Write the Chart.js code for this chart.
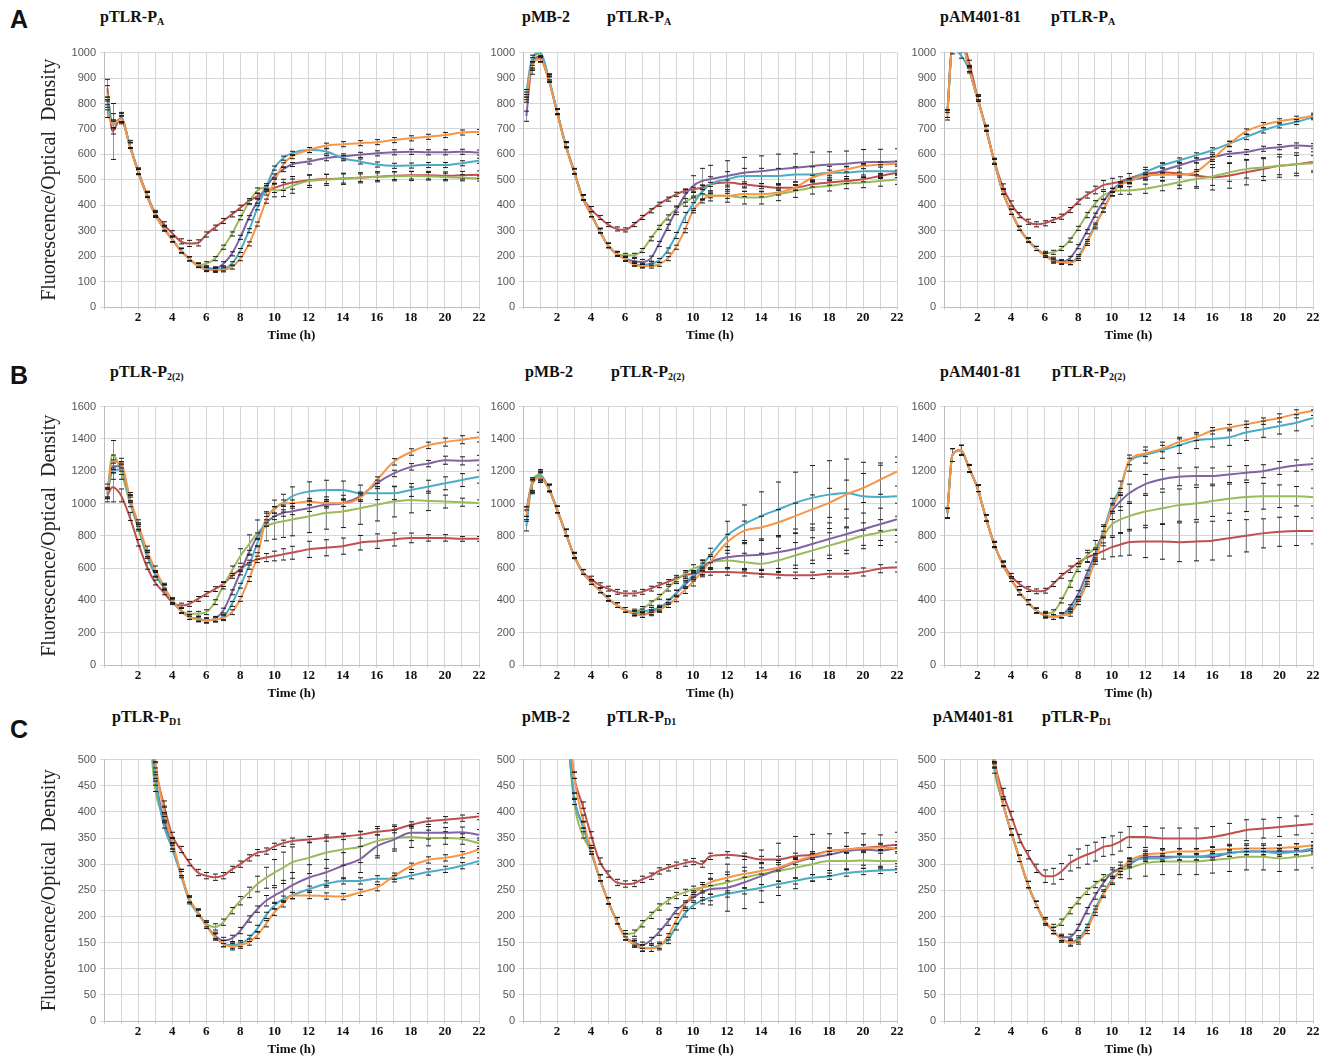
<!DOCTYPE html>
<html>
<head>
<meta charset="utf-8">
<script src="https://cdn.jsdelivr.net/npm/chart.js@4.4.1/dist/chart.umd.min.js"></script>
<style>
  body { margin: 0; background: #fff; width: 1331px; height: 1062px; position: relative; overflow: hidden; }
  canvas { position: absolute; }
  .letter { position: absolute; font: bold 25px "Liberation Sans", Arial, sans-serif; color: #111; }
  .ttl { position: absolute; font: bold 16px "Liberation Serif", "Times New Roman", serif; color: #111; white-space: nowrap; }
  .ttl sub { font-size: 10px; vertical-align: -3px; }
</style>
</head>
<body>
<div class="letter" style="left:10px;top:5px">A</div>
<div class="letter" style="left:10px;top:361px">B</div>
<div class="letter" style="left:10px;top:715px">C</div>

<div class="ttl" style="left:100px;top:8px">pTLR-P<sub>A</sub></div>
<div class="ttl" style="left:522px;top:8px">pMB-2</div>
<div class="ttl" style="left:607px;top:8px">pTLR-P<sub>A</sub></div>
<div class="ttl" style="left:940px;top:8px">pAM401-81</div>
<div class="ttl" style="left:1051px;top:8px">pTLR-P<sub>A</sub></div>

<div class="ttl" style="left:110px;top:363px">pTLR-P<sub>2(2)</sub></div>
<div class="ttl" style="left:525px;top:363px">pMB-2</div>
<div class="ttl" style="left:611px;top:363px">pTLR-P<sub>2(2)</sub></div>
<div class="ttl" style="left:940px;top:363px">pAM401-81</div>
<div class="ttl" style="left:1052px;top:363px">pTLR-P<sub>2(2)</sub></div>

<div class="ttl" style="left:112px;top:708px">pTLR-P<sub>D1</sub></div>
<div class="ttl" style="left:522px;top:708px">pMB-2</div>
<div class="ttl" style="left:607px;top:708px">pTLR-P<sub>D1</sub></div>
<div class="ttl" style="left:933px;top:708px">pAM401-81</div>
<div class="ttl" style="left:1042px;top:708px">pTLR-P<sub>D1</sub></div>

<script>
// sampling times (h), shared by every series
const X_HOURS = [0.2,0.5,1,1.5,2,2.5,3,3.5,4,4.5,5,5.5,6,6.5,7,7.5,8,8.5,9,9.5,10,10.5,11,12,13,14,15,16,17,18,19,20,21,22];

// ---- row A : pTLR-PA (0-1000) ----
const a1Red    = [860,690,745,640,535,445,370,325,290,258,250,252,285,312,338,364,390,416,436,452,468,480,488,498,503,505,508,512,516,518,518,516,518,520];
const a1Green  = [840,720,740,635,530,440,362,308,265,222,190,165,170,190,235,287,351,412,458,470,458,462,475,495,500,504,508,512,514,515,514,511,508,505];
const a1Purple = [810,720,740,637,533,442,365,311,267,222,190,165,152,150,170,209,274,351,416,470,515,540,560,572,585,592,598,604,608,610,608,608,610,607];
const a1Cyan   = [800,715,740,637,533,442,365,311,267,222,190,163,148,147,150,170,222,300,390,468,546,585,604,617,612,585,572,560,555,556,558,558,565,575];
const a1Orange = [760,720,738,635,532,441,364,310,266,221,189,163,147,144,146,157,190,248,326,416,494,559,591,617,634,640,644,648,656,663,669,676,686,688];

const a2Red    = [830,950,975,895,768,638,534,432,385,352,324,307,303,324,352,378,404,424,443,456,463,469,482,489,482,475,469,469,482,489,495,502,515,528];
const a2Green  = [840,960,995,900,768,638,534,430,365,300,242,209,203,203,222,268,313,352,385,411,430,443,437,437,430,430,443,456,469,476,485,489,495,502];
const a2Purple = [750,940,985,898,768,638,534,430,365,300,242,209,190,181,177,190,248,313,378,437,476,495,502,515,528,534,541,547,554,560,563,569,570,572];
const a2Cyan   = [840,970,1000,905,770,640,535,430,365,300,242,209,190,170,164,170,183,222,281,352,404,450,482,502,515,515,515,521,521,528,528,534,534,534];
const a2Orange = [820,945,975,895,766,636,532,430,365,300,242,209,188,168,161,161,168,190,235,300,378,417,437,437,444,443,450,469,508,528,541,554,560,563];

const a3Red    = [760,1040,1060,960,825,705,575,474,407,361,335,325,329,342,355,381,414,440,460,479,486,492,505,524,530,524,517,510,517,530,542,555,561,570];
const a3Green  = [760,1030,1050,935,819,702,571,453,374,309,263,230,211,215,230,263,309,361,406,439,452,458,458,465,477,490,503,513,529,542,548,555,561,565];
const a3Purple = [760,1030,1050,935,819,702,571,453,374,309,263,230,204,188,178,191,237,296,361,414,458,484,497,510,536,556,576,589,602,609,622,628,635,632];
const a3Cyan   = [760,1010,990,930,819,702,571,453,374,309,263,230,204,181,175,175,198,257,322,381,445,484,497,530,557,576,596,616,642,668,694,714,727,746];
const a3Orange = [750,1030,1050,935,819,702,571,453,374,309,263,230,204,181,175,174,191,250,315,381,445,479,492,517,520,520,530,582,640,690,715,730,740,752];

// ---- row B : pTLR-P2(2) (0-1600) ----
const b1Red    = [1050,1100,1050,920,757,613,511,450,389,368,378,409,440,470,501,552,593,634,654,665,675,685,695,716,726,736,757,767,777,787,787,787,781,781];
const b1Green  = [1080,1300,1200,1010,850,680,560,480,399,337,317,317,327,389,491,583,675,746,818,859,879,890,900,920,941,951,971,992,1012,1022,1016,1012,1008,1002];
const b1Purple = [1060,1230,1230,1030,860,690,565,482,399,337,297,286,276,286,337,450,573,695,798,879,920,941,951,971,992,1002,1043,1125,1186,1227,1247,1268,1264,1268];
const b1Cyan   = [1060,1200,1210,1030,860,690,565,482,399,337,297,286,276,282,297,378,491,613,757,900,971,1002,1043,1074,1084,1084,1064,1064,1064,1084,1104,1125,1145,1166];
const b1Orange = [1070,1260,1250,1043,879,716,593,491,399,337,297,282,276,282,290,327,409,532,675,900,961,1002,1002,1012,1002,1002,1033,1145,1258,1319,1360,1380,1395,1411];

const b2Red    = [950,1110,1160,1096,963,820,678,576,535,494,473,453,443,443,453,473,494,514,535,555,565,576,576,576,571,565,559,555,555,565,565,576,596,606];
const b2Green  = [950,1120,1180,1096,963,820,678,576,514,463,412,371,341,331,347,382,422,473,524,565,596,616,637,647,637,627,647,678,708,739,769,800,820,841];
const b2Purple = [950,1110,1170,1096,963,820,678,576,514,463,412,371,341,320,310,327,347,392,443,494,545,596,637,667,678,682,698,718,749,780,810,841,871,902];
const b2Cyan   = [860,1100,1170,1096,963,820,678,576,514,463,412,371,341,320,331,341,355,392,443,504,555,616,678,800,871,922,963,1004,1035,1055,1065,1045,1041,1045];
const b2Orange = [930,1110,1160,1096,963,820,678,576,514,463,412,371,341,320,310,320,341,371,412,463,514,576,637,759,831,851,882,922,963,1004,1055,1096,1147,1198];

const b3Red    = [940,1300,1330,1217,1094,910,746,630,552,501,470,456,460,501,552,593,634,665,685,706,730,745,760,765,765,760,765,770,785,800,815,825,830,830];
const b3Green  = [940,1300,1330,1217,1094,910,746,624,532,450,389,337,317,327,399,501,603,675,726,798,870,900,920,950,970,990,1000,1015,1030,1040,1045,1045,1045,1040];
const b3Purple = [940,1300,1330,1217,1094,910,746,624,532,450,389,337,307,297,307,358,440,562,685,828,951,1012,1060,1120,1150,1165,1170,1170,1180,1190,1200,1220,1235,1245];
const b3Cyan   = [940,1300,1330,1217,1094,910,746,624,532,450,389,337,307,297,307,337,409,521,665,828,992,1094,1250,1300,1330,1360,1390,1400,1410,1440,1460,1480,1500,1530];
const b3Orange = [940,1300,1330,1217,1094,910,746,624,532,450,389,337,307,297,307,317,389,501,644,808,971,1074,1260,1310,1340,1380,1410,1450,1470,1490,1510,1530,1555,1575];

// ---- row C : pTLR-PD1 (0-500, early values run off the top) ----
const c1Red    = [null,null,null,null,null,650,490,415,355,328,303,284,278,275,278,290,300,312,322,325,334,340,344,347,350,353,356,362,366,375,382,385,388,391];
const c1Green  = [null,null,null,null,null,620,445,390,335,284,233,208,186,180,189,211,230,246,262,274,284,293,303,312,322,328,333,344,350,352,350,350,348,340];
const c1Purple = [null,null,null,null,null,630,470,385,335,284,233,208,183,164,154,158,173,195,214,230,240,249,259,274,284,297,309,334,347,360,360,360,361,356];
const c1Cyan   = [null,null,null,null,null,630,465,375,330,280,230,206,183,161,148,145,148,158,177,202,221,233,240,252,262,268,268,272,272,278,285,290,297,306];
const c1Orange = [null,null,null,null,null,680,500,405,345,284,233,208,183,161,148,142,145,151,164,186,208,224,240,240,239,238,246,255,277,296,308,312,318,328];

const c2Red    = [null,null,null,null,null,620,470,413,356,306,281,265,262,263,271,277,287,293,298,302,305,300,315,318,315,309,309,315,318,325,328,331,334,337];
const c2Green  = [null,null,null,null,null,600,420,356,325,274,230,192,167,168,186,202,218,230,240,246,252,255,258,265,274,281,287,293,300,306,306,307,306,306];
const c2Purple = [null,null,null,null,null,600,430,375,325,274,230,192,161,151,145,154,170,189,211,224,236,246,252,255,265,277,290,303,312,318,325,328,326,331];
const c2Cyan   = [null,null,null,null,null,600,430,375,325,274,230,192,161,147,139,139,145,154,180,205,221,230,236,243,249,255,262,268,274,277,283,286,288,290];
const c2Orange = [null,null,null,null,null,640,470,388,330,274,230,192,161,148,140,139,142,161,192,221,243,255,265,274,281,287,293,305,315,325,328,331,332,330];

const c3Red    = [null,null,null,null,null,640,500,437,393,349,318,292,277,277,286,302,311,318,324,333,336,343,352,352,349,349,349,352,358,365,368,371,374,377];
const c3Green  = [null,null,null,null,null,620,480,418,362,311,261,223,189,179,189,211,230,248,261,274,283,289,292,302,305,305,305,308,311,314,314,311,314,318];
const c3Purple = [null,null,null,null,null,630,490,418,362,311,261,223,192,173,160,160,179,211,239,264,283,292,299,314,314,314,314,314,321,324,324,324,324,327];
const c3Cyan   = [null,null,null,null,null,630,490,418,362,311,261,223,192,173,157,151,157,179,214,245,270,286,302,311,311,314,314,318,321,324,324,321,324,330];
const c3Orange = [null,null,null,null,null,640,500,418,362,311,261,223,192,173,157,149,153,173,208,242,267,286,305,318,321,324,324,327,329,330,330,331,333,336];

// ---- error bar half-widths (same units as the series) ----
const errSmall   = [15,15,12,10,10,10,10,10,10,8,8,8,8,8,8,8,8,8,8,8,8,8,8,10,10,10,10,10,10,10,10,10,10,10];
const a1RedErr   = [35,110,20,15,12,10,10,10,10,10,12,12,10,10,10,10,10,10,10,12,18,22,25,20,18,18,15,15,15,15,15,15,15,15];
const a1GreenErr = [30,40,20,12,10,10,10,10,10,10,8,8,8,8,8,8,8,8,10,15,25,28,28,25,22,22,20,20,18,18,15,15,12,10];
const a2PurpleErr= [20,25,20,15,12,12,10,10,10,10,10,10,10,10,10,10,10,12,15,25,40,50,55,60,60,60,60,55,55,50,50,50,50,50];
const a2CyanErr  = [15,20,15,12,10,10,10,10,10,8,8,8,8,8,8,8,8,10,12,20,25,30,30,30,30,30,30,30,30,25,25,25,25,25];
const a2GreenErr = [15,20,15,12,10,10,10,10,10,8,8,8,8,8,8,8,8,10,12,15,20,20,20,25,25,25,25,25,25,20,20,20,20,20];
const a3RedErr   = [15,15,12,10,10,10,10,10,10,10,10,10,10,10,10,10,10,12,15,18,20,20,20,25,35,45,50,50,50,50,45,45,45,40];
const a3GreenErr = [15,15,12,10,10,10,10,10,10,8,8,8,8,8,8,8,8,10,12,15,15,15,15,18,20,25,30,35,35,35,35,35,35,30];

const errSmallB  = [30,40,30,25,20,20,20,15,15,15,15,15,15,15,15,15,15,15,20,20,20,20,20,20,20,20,20,20,20,20,20,25,25,30];
const b1RedErr   = [40,90,40,25,20,20,15,15,15,15,15,15,15,15,15,15,15,15,20,25,30,35,40,50,50,50,45,45,40,30,20,20,15,15];
const b1GreenErr = [40,90,50,30,20,20,15,15,15,15,15,15,15,15,20,30,45,60,80,90,100,100,100,100,100,100,100,100,95,80,60,40,25,20];
const b1CyanErr  = [30,50,30,20,20,20,15,15,15,15,15,15,15,15,15,15,15,20,25,40,50,55,60,60,60,55,50,40,40,40,40,40,40,40];
const b2GreenErr = [30,40,30,20,20,20,15,15,15,15,15,15,15,15,15,15,15,15,20,20,25,30,35,45,55,65,75,80,80,80,80,80,80,80];
const b2PurpleErr= [30,40,30,20,20,20,15,15,15,15,15,15,15,15,15,15,15,15,20,20,25,35,45,65,80,90,100,100,100,100,100,100,100,100];
const b2CyanErr  = [30,40,30,20,20,20,15,15,15,15,15,15,15,15,15,15,15,15,20,20,25,35,45,90,120,150,170,190,200,210,210,210,210,210];
const b2OrangeErr= [30,40,30,20,20,20,15,15,15,15,15,15,15,15,15,15,15,15,20,20,25,30,35,50,60,70,80,80,90,90,90,90,90,90];
const b3RedErr   = [30,40,30,20,20,20,15,15,15,15,15,15,15,15,15,20,25,30,40,50,60,70,80,100,110,120,120,120,110,100,90,90,90,80];
const b3GreenErr = [30,40,30,20,20,20,15,15,15,15,15,15,15,15,15,20,25,35,45,60,70,80,90,100,100,100,100,95,90,90,80,70,60,55];
const b3PurpleErr= [30,40,30,20,20,20,15,15,15,15,15,15,15,15,15,15,20,25,30,40,50,55,60,60,60,55,55,50,50,45,40,40,35,35];
const b3CyanErr  = [30,40,30,20,20,20,15,15,15,15,15,15,15,15,15,15,15,20,25,30,40,45,50,50,50,50,50,50,50,50,50,50,50,50];

const errSmallC  = [6,6,6,6,6,6,6,6,6,6,6,6,6,6,6,6,6,6,6,6,6,6,6,6,6,6,6,6,6,6,6,6,6,6];
const c1GreenErr = [6,6,6,6,6,6,6,6,6,6,6,6,6,6,6,6,8,10,15,20,25,30,30,30,30,30,30,28,25,20,15,12,10,10];
const c1PurpleErr= [6,6,6,6,6,6,6,6,6,6,6,6,6,6,6,6,6,6,6,10,15,20,25,25,25,25,25,22,18,15,12,10,10,10];
const c2PurpleErr= [6,6,6,6,6,6,6,6,6,6,6,6,6,6,6,6,6,6,6,6,6,15,30,45,50,50,50,50,45,40,35,30,30,30];
const c2GreenErr = [6,6,6,6,6,6,6,6,6,6,6,6,6,6,6,6,6,6,6,6,6,10,15,20,20,20,20,20,20,18,15,15,15,15];
const c3RedErr   = [8,8,8,8,8,8,8,8,8,8,8,8,12,15,15,15,18,18,18,18,18,18,20,20,20,20,20,20,20,20,18,18,18,18];
const c3GreenErr = [6,6,6,6,6,6,6,6,6,6,6,6,6,6,6,6,6,6,6,6,10,15,20,25,25,25,25,25,25,25,25,25,25,25];

// y axis per row
const Y_MAX  = [1000, 1600, 500];
const Y_STEP = [100, 200, 50];

// series colours: red, green, purple, cyan, orange
const COLORS = ["#c0504d", "#9bbb59", "#8064a2", "#4bacc6", "#f79646"];

// plot-area edges in page pixels
const COL_L = [104, 523, 944], COL_R = [479, 897, 1313];
const ROW_T = [50, 404, 757],  ROW_B = [307, 665, 1021];

const panels = [
  { row: 0, col: 0, lines: [a1Red, a1Green, a1Purple, a1Cyan, a1Orange], errs: [a1RedErr, a1GreenErr, errSmall, errSmall, errSmall] },
  { row: 0, col: 1, lines: [a2Red, a2Green, a2Purple, a2Cyan, a2Orange], errs: [errSmall, a2GreenErr, a2PurpleErr, a2CyanErr, errSmall] },
  { row: 0, col: 2, lines: [a3Red, a3Green, a3Purple, a3Cyan, a3Orange], errs: [a3RedErr, a3GreenErr, errSmall, errSmall, errSmall] },
  { row: 1, col: 0, lines: [b1Red, b1Green, b1Purple, b1Cyan, b1Orange], errs: [b1RedErr, b1GreenErr, errSmallB, b1CyanErr, errSmallB] },
  { row: 1, col: 1, lines: [b2Red, b2Green, b2Purple, b2Cyan, b2Orange], errs: [errSmallB, b2GreenErr, b2PurpleErr, b2CyanErr, b2OrangeErr] },
  { row: 1, col: 2, lines: [b3Red, b3Green, b3Purple, b3Cyan, b3Orange], errs: [b3RedErr, b3GreenErr, b3PurpleErr, b3CyanErr, errSmallB] },
  { row: 2, col: 0, lines: [c1Red, c1Green, c1Purple, c1Cyan, c1Orange], errs: [errSmallC, c1GreenErr, c1PurpleErr, errSmallC, errSmallC] },
  { row: 2, col: 1, lines: [c2Red, c2Green, c2Purple, c2Cyan, c2Orange], errs: [errSmallC, c2GreenErr, c2PurpleErr, errSmallC, errSmallC] },
  { row: 2, col: 2, lines: [c3Red, c3Green, c3Purple, c3Cyan, c3Orange], errs: [c3RedErr, c3GreenErr, errSmallC, errSmallC, errSmallC] },
];

// draws +/- error whiskers: grey stems under the lines, black caps on top
function whiskers(chart, part) {
  const { ctx, chartArea: a, scales: { x, y } } = chart;
  ctx.save();
  ctx.beginPath();
  ctx.rect(a.left, a.top, a.right - a.left, a.bottom - a.top);
  ctx.clip();
  ctx.lineWidth = 1;
  chart.data.datasets.forEach(ds => {
    ds.data.forEach((p, i) => {
      if (p.y == null) return;
      const e = ds.err[i];
      const px = Math.round(x.getPixelForValue(p.x)) + 0.5;
      const hi = y.getPixelForValue(p.y + e), lo = y.getPixelForValue(p.y - e);
      ctx.beginPath();
      if (part === "stem") {
        ctx.strokeStyle = "rgba(110,110,110,0.75)";
        ctx.moveTo(px, hi); ctx.lineTo(px, lo);
      } else {
        ctx.strokeStyle = "#1a1a1a";
        ctx.moveTo(px - 2.5, hi); ctx.lineTo(px + 2.5, hi);
        ctx.moveTo(px - 2.5, lo); ctx.lineTo(px + 2.5, lo);
      }
      ctx.stroke();
    });
  });
  ctx.restore();
}

const errorBars = {
  id: "errorBars",
  beforeDatasetsDraw(chart) { whiskers(chart, "stem"); },
  afterDatasetsDraw(chart) { whiskers(chart, "cap"); },
};

function makePanel(def) {
  const yW = def.col === 0 ? 70 : 40;
  const left = COL_L[def.col] - yW;
  const top = ROW_T[def.row] - 8;
  const cv = document.createElement("canvas");
  cv.width = COL_R[def.col] - left + 10;
  cv.height = ROW_B[def.row] - top + 36;
  cv.style.left = left + "px";
  cv.style.top = top + "px";
  document.body.appendChild(cv);

  new Chart(cv.getContext("2d"), {
    type: "line",
    data: {
      datasets: def.lines.map((vals, k) => ({
        data: X_HOURS.map((t, i) => ({ x: t, y: vals[i] })),
        err: def.errs[k],
        borderColor: COLORS[k],
        backgroundColor: COLORS[k],
        borderWidth: 2,
        pointRadius: 0,
        cubicInterpolationMode: "monotone",
        order: 4 - k, // orange drawn last (on top)
      })),
    },
    options: {
      responsive: false,
      animation: false,
      layout: { padding: { top: 8, right: 10, left: 0, bottom: 0 } },
      plugins: { legend: { display: false }, tooltip: { enabled: false } },
      scales: {
        x: {
          type: "linear",
          min: 0,
          max: 22,
          afterFit: (s) => { s.height = 36; },
          grid: { color: "#d6d6d6", tickLength: 3 },
          border: { color: "#bdbdbd" },
          ticks: {
            stepSize: 1,
            autoSkip: false,
            maxRotation: 0,
            padding: 0,
            color: "#111",
            font: { family: "'Liberation Serif', serif", size: 13, weight: "bold" },
            callback: (v) => (v > 0 && v % 2 === 0 ? String(v) : ""),
          },
          title: {
            display: true,
            text: "Time (h)",
            color: "#111",
            padding: 0,
            font: { family: "'Liberation Serif', serif", size: 13, weight: "bold" },
          },
        },
        y: {
          min: 0,
          max: Y_MAX[def.row],
          afterFit: (s) => { s.width = yW; },
          grid: { color: "#d6d6d6", tickLength: 4 },
          border: { color: "#bdbdbd" },
          ticks: {
            stepSize: Y_STEP[def.row],
            padding: 4,
            color: "#555",
            font: { family: "'Liberation Sans', sans-serif", size: 11 },
            callback: (v) => String(v),
          },
          title: {
            display: def.col === 0,
            text: "Fluorescence/Optical  Density",
            color: "#222",
            padding: { top: 4, bottom: 2 },
            font: { family: "'Liberation Serif', serif", size: 20 },
          },
        },
      },
    },
    plugins: [errorBars],
  });
}

panels.forEach(makePanel);
</script>
</body>
</html>
